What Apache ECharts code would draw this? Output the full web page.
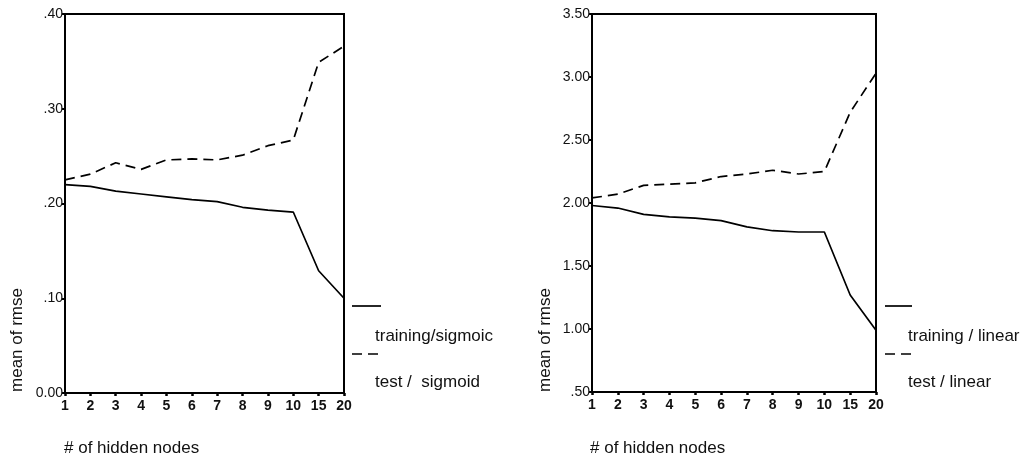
<!DOCTYPE html>
<html>
<head>
<meta charset="utf-8">
<script src="https://cdn.jsdelivr.net/npm/echarts@6/dist/echarts.min.js"></script>
<style>
  html, body { margin: 0; padding: 0; background: #fff; }
  #chart { width: 1023px; height: 459px; }
</style>
</head>
<body>
<div id="chart"></div>
<script>
  // hidden node counts (x categories)
  var nodes = ['1', '2', '3', '4', '5', '6', '7', '8', '9', '10', '15', '20'];
  // sigmoid panel
  var trainSigmoid = [0.220, 0.218, 0.213, 0.210, 0.207, 0.204, 0.202, 0.196, 0.193, 0.191, 0.129, 0.100];
  var testSigmoid = [0.225, 0.231, 0.243, 0.236, 0.246, 0.247, 0.246, 0.251, 0.261, 0.267, 0.349, 0.366];
  // linear panel
  var trainLinear = [1.98, 1.96, 1.91, 1.89, 1.88, 1.86, 1.81, 1.78, 1.77, 1.77, 1.27, 0.99];
  var testLinear = [2.04, 2.07, 2.14, 2.15, 2.16, 2.21, 2.23, 2.26, 2.23, 2.25, 2.72, 3.03];

  var txt = '#111';
  var font = 'Liberation Sans, Arial, sans-serif';

  function fmt(v) {
    var s = v.toFixed(2);
    if (v > 0 && v < 1) s = s.substring(1); // ".40" style
    return s;
  }

  function xAxisFor(gi) {
    return {
      gridIndex: gi,
      type: 'category',
      data: nodes,
      boundaryGap: false,
      axisLine: {lineStyle: {color: '#000', width: 2}},
      axisTick: {show: true, length: 3, lineStyle: {color: '#000', width: 2.5}},
      axisLabel: {color: txt, fontSize: 14, fontWeight: 'bold', fontFamily: font, margin: 6, interval: 0},
      splitLine: {show: false}
    };
  }

  function yAxisFor(gi, min, max, step) {
    return {
      gridIndex: gi,
      type: 'value',
      min: min, max: max, interval: step,
      axisLine: {show: true, lineStyle: {color: '#000', width: 2}},
      axisTick: {show: true, length: 3, lineStyle: {color: '#000', width: 2}},
      axisLabel: {color: txt, fontSize: 14, fontFamily: font, margin: 2, formatter: fmt},
      splitLine: {show: false}
    };
  }

  function lineSeries(name, gi, data, dashed) {
    return {
      name: name,
      type: 'line',
      xAxisIndex: gi,
      yAxisIndex: gi,
      data: data,
      symbol: 'none',
      silent: true,
      lineStyle: {color: '#000', width: 1.7, type: dashed ? [10, 6] : 'solid'}
    };
  }

  function legendItems(x0, x1, tx, labels) {
    var items = [];
    items.push({type: 'line', shape: {x1: x0, y1: 306, x2: x1, y2: 306}, style: {stroke: '#000', lineWidth: 1.7}});
    items.push({type: 'line', shape: {x1: x0, y1: 354, x2: x1, y2: 354}, style: {stroke: '#000', lineWidth: 1.7, lineDash: [10, 6]}});
    items.push({type: 'text', x: tx, y: 336, style: {text: labels[0], fill: txt, font: '17px ' + font, textVerticalAlign: 'middle'}});
    items.push({type: 'text', x: tx, y: 382, style: {text: labels[1], fill: txt, font: '17px ' + font, textVerticalAlign: 'middle'}});
    return items;
  }

  var graphics = []
    .concat(legendItems(352, 381, 375, ['training/sigmoic', 'test /  sigmoid']))
    .concat(legendItems(885, 912, 908, ['training / linear', 'test / linear']))
    .concat([
      {type: 'text', x: 17, y: 340, rotation: Math.PI / 2,
        style: {text: 'mean of rmse', fill: txt, font: '17px ' + font, textAlign: 'center', textVerticalAlign: 'middle'}},
      {type: 'text', x: 545, y: 340, rotation: Math.PI / 2,
        style: {text: 'mean of rmse', fill: txt, font: '17px ' + font, textAlign: 'center', textVerticalAlign: 'middle'}},
      {type: 'text', x: 64, y: 448,
        style: {text: '# of hidden nodes', fill: txt, font: '17px ' + font, textVerticalAlign: 'middle'}},
      {type: 'text', x: 590, y: 448,
        style: {text: '# of hidden nodes', fill: txt, font: '17px ' + font, textVerticalAlign: 'middle'}}
    ]);

  var chart = echarts.init(document.getElementById('chart'));
  chart.setOption({
    animation: false,
    backgroundColor: '#fff',
    grid: [
      {left: 65, top: 14, width: 279, height: 379, show: true, borderColor: '#000', borderWidth: 2, containLabel: false},
      {left: 592, top: 14, width: 284, height: 378, show: true, borderColor: '#000', borderWidth: 2, containLabel: false}
    ],
    xAxis: [xAxisFor(0), xAxisFor(1)],
    yAxis: [yAxisFor(0, 0, 0.4, 0.1), yAxisFor(1, 0.5, 3.5, 0.5)],
    series: [
      lineSeries('training/sigmoid', 0, trainSigmoid, false),
      lineSeries('test / sigmoid', 0, testSigmoid, true),
      lineSeries('training / linear', 1, trainLinear, false),
      lineSeries('test / linear', 1, testLinear, true)
    ],
    graphic: graphics
  });
</script>
</body>
</html>
